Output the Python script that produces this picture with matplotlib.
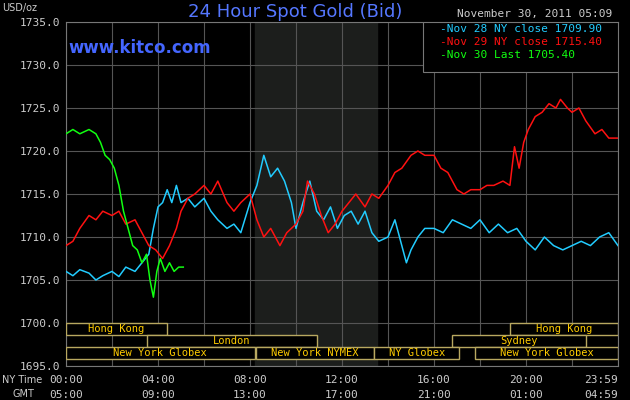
import matplotlib
matplotlib.use("Agg")
import matplotlib.pyplot as plt
from matplotlib.patches import Rectangle

blue_t = [0,0.3,0.6,1,1.3,1.6,2,2.3,2.6,3,3.3,3.6,3.8,4,4.2,4.4,4.6,4.8,5,5.3,5.6,6,6.3,6.6,7,7.3,7.6,8,8.3,8.6,8.9,9.2,9.5,9.8,10,10.3,10.6,10.9,11.2,11.5,11.8,12.1,12.4,12.7,13,13.3,13.6,14,14.3,14.6,14.8,15,15.3,15.6,16,16.4,16.8,17.2,17.6,18,18.4,18.8,19.2,19.6,20,20.4,20.8,21.2,21.6,22,22.4,22.8,23.2,23.6,24]
blue_v = [1706,1705.5,1706.2,1705.8,1705,1705.5,1706,1705.4,1706.5,1706,1707,1708,1711,1713.5,1714,1715.5,1714,1716,1714,1714.5,1713.5,1714.5,1713,1712,1711,1711.5,1710.5,1714,1716,1719.5,1717,1718,1716.5,1714,1711,1714,1716.5,1713,1712,1713.5,1711,1712.5,1713,1711.5,1713,1710.5,1709.5,1710,1712,1709,1707,1708.5,1710,1711,1711,1710.5,1712,1711.5,1711,1712,1710.5,1711.5,1710.5,1711,1709.5,1708.5,1710,1709,1708.5,1709,1709.5,1709,1710,1710.5,1709]

red_t = [0,0.3,0.6,1,1.3,1.6,2,2.3,2.6,3,3.3,3.6,3.9,4.2,4.5,4.8,5,5.3,5.6,6,6.3,6.6,7,7.3,7.6,8,8.3,8.6,8.9,9.3,9.6,10,10.3,10.5,10.8,11.1,11.4,11.7,12,12.3,12.6,13,13.3,13.6,14,14.3,14.6,15,15.3,15.6,16,16.3,16.6,17,17.3,17.6,18,18.3,18.6,19,19.3,19.5,19.7,19.9,20.1,20.4,20.7,21,21.3,21.5,21.8,22,22.3,22.6,23,23.3,23.6,24]
red_v = [1709,1709.5,1711,1712.5,1712,1713,1712.5,1713,1711.5,1712,1710.5,1709,1708.5,1707.5,1709,1711,1713,1714.5,1715,1716,1715,1716.5,1714,1713,1714,1715,1712,1710,1711,1709,1710.5,1711.5,1713,1716.5,1715,1712.5,1710.5,1711.5,1713,1714,1715,1713.5,1715,1714.5,1716,1717.5,1718,1719.5,1720,1719.5,1719.5,1718,1717.5,1715.5,1715,1715.5,1715.5,1716,1716,1716.5,1716,1720.5,1718,1721,1722.5,1724,1724.5,1725.5,1725,1726,1725,1724.5,1725,1723.5,1722,1722.5,1721.5,1721.5]

green_t = [0,0.3,0.6,1,1.3,1.5,1.7,1.9,2.1,2.3,2.5,2.7,2.9,3.1,3.3,3.5,3.65,3.8,3.95,4.1,4.3,4.5,4.7,4.9,5.1]
green_v = [1722,1722.5,1722,1722.5,1722,1721,1719.5,1719,1718,1716,1713,1711,1709,1708.5,1707,1708,1705,1703,1706,1707.5,1706,1707,1706,1706.5,1706.5]

yticks = [1695,1700,1705,1710,1715,1720,1725,1730,1735]
xtick_pos = [0,4,8,12,16,20,23.983]
ny_labels = ["00:00","04:00","08:00","12:00","16:00","20:00","23:59"]
gmt_labels = ["05:00","09:00","13:00","17:00","21:00","01:00","04:59"]
sessions = [  # (label, start, end, row)
    ("Hong Kong",0,4.4,0),("Hong Kong",19.3,24,0),
    ("London",3.5,10.9,1),("Sydney",16.8,22.6,1),
    ("New York Globex",0,8.2,2),("New York NYMEX",8.25,13.4,2),
    ("NY Globex",13.4,17.1,2),("New York Globex",17.8,24,2)]

mono = "DejaVu Sans Mono"
fig = plt.figure(figsize=(6.3,4), dpi=100, facecolor="black")
ax = fig.add_axes([66/630, 1-366/400, 552/630, 344/400], facecolor="black")
ax.set_xlim(0,24); ax.set_ylim(1695,1735)
ax.axvspan(8.2,13.5,color="#1c1e1c",zorder=0)
for y in yticks:
    ax.axhline(y,color="#555555",lw=0.8,zorder=1)
for x in range(0,25,2):
    ax.axvline(x,color="#555555",lw=0.8,zorder=1)
ax.plot(blue_t,blue_v,color="#22ccff",lw=1.1,zorder=3)
ax.plot(red_t,red_v,color="#ff1111",lw=1.1,zorder=3)
ax.plot(green_t,green_v,color="#11ff11",lw=1.1,zorder=4)
rh = 1.4
for lab,s,e,r in sessions:
    y0 = 1700 - (r+1)*rh
    ax.add_patch(Rectangle((s,y0),e-s,rh,facecolor="black",edgecolor="#b8a860",lw=1,zorder=5))
    ax.text((s+e)/2,y0+rh/2,lab,color="#ffcc00",ha="center",va="center",fontsize=7.5,family=mono,zorder=6)
for sp in ax.spines.values():
    sp.set_color("#777777")
ax.set_yticks(yticks); ax.set_yticklabels([f"{v:.1f}" for v in yticks])
ax.set_xticks([])
ax.tick_params(colors="#cccccc",labelsize=8,length=0,pad=4)
for t in ax.get_yticklabels():
    t.set_family(mono)
for i,(x,l1,l2) in enumerate(zip(xtick_pos,ny_labels,gmt_labels)):
    ha = "right" if i == len(xtick_pos)-1 else "center"
    xx = 24.0 if ha == "right" else x
    for l,py in ((l1,380),(l2,395)):
        ax.text(xx,1-(py-22)/344,l,transform=ax.get_xaxis_transform(),color="#cccccc",ha=ha,va="center",fontsize=8,family=mono)
fig.text(2/630,1-380/400,"NY Time",color="#cccccc",fontsize=7,va="center")
fig.text(12/630,1-394/400,"GMT",color="#cccccc",fontsize=7,va="center")
fig.text(2/630,1-8/400,"USD/oz",color="#cccccc",fontsize=7,va="center")
fig.text(295/630,1-12/400,"24 Hour Spot Gold (Bid)",color="#5577ff",fontsize=13,ha="center",va="center")
fig.text(68/630,1-48/400,"www.kitco.com",color="#4466ff",fontsize=12,fontweight="bold",va="center")
fig.text(612/630,1-14/400,"November 30, 2011 05:09",color="#cccccc",fontsize=8,family=mono,ha="right",va="center")
ax.add_patch(Rectangle((15.5,1729.2),8.5,5.8,facecolor="black",edgecolor="#777777",lw=0.8,zorder=6))
for i,(txt,c) in enumerate([("-Nov 28 NY close 1709.90","#22ccff"),("-Nov 29 NY close 1715.40","#ff1111"),("-Nov 30 Last 1705.40","#11ff11")]):
    fig.text(440/630,1-(29+i*13)/400,txt,color=c,fontsize=8,family=mono,va="center")
fig.savefig("out.png",dpi=100,facecolor="black")
